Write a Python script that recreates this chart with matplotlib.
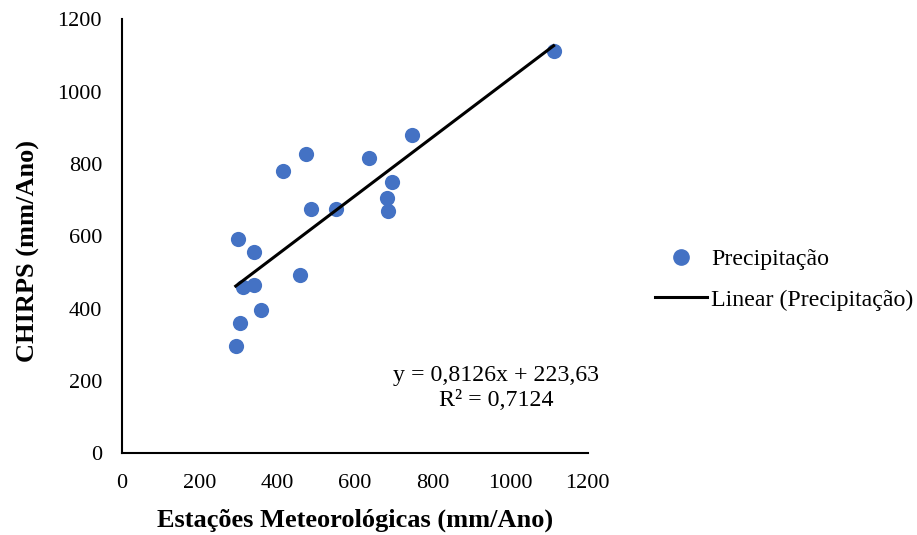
import matplotlib
matplotlib.use("Agg")
import matplotlib.pyplot as plt
import numpy as np
from matplotlib.lines import Line2D

estacoes = [1112, 748, 475, 416, 637, 696, 683, 685, 488, 552, 299, 342, 459, 312, 342, 360, 305, 294]
chirps = [1114, 881, 827, 782, 817, 749, 705, 670, 675, 677, 594, 558, 492, 461, 465, 396, 360, 297]
slope = 0.8126
intercept = 223.63
r2 = 0.7124
x_ticks = [0, 200, 400, 600, 800, 1000, 1200]
y_ticks = [0, 200, 400, 600, 800, 1000, 1200]

plt.rcParams['font.family'] = ['Liberation Serif', 'DejaVu Serif']

fig = plt.figure(figsize=(9.17, 5.35), dpi=100)
ax = fig.add_axes([0.1325, 0.1527, 0.5085, 0.811])

blue = '#4472C4'
ax.scatter(estacoes, chirps, s=120, color=blue, zorder=3, linewidths=0)
xl = np.array([min(estacoes), max(estacoes)])
ax.plot(xl, slope * xl + intercept, color='black', lw=2.2, zorder=4)

ax.set_xlim(0, 1200)
ax.set_ylim(0, 1200)
ax.set_xticks(x_ticks)
ax.set_yticks(y_ticks)
ax.tick_params(length=0, labelsize=16)
ax.tick_params(axis='y', pad=14)
ax.tick_params(axis='x', pad=15)
for s in ['top', 'right']:
    ax.spines[s].set_visible(False)
for s in ['left', 'bottom']:
    ax.spines[s].set_linewidth(1.5)
    ax.spines[s].set_color('black')

fig.text(355 / 917, 1 - 520 / 535, 'Estações Meteorológicas (mm/Ano)', fontsize=19,
         fontweight='bold', ha='center', va='center')
fig.text(28 / 917, 1 - 251 / 535, 'CHIRPS (mm/Ano)', fontsize=19, fontweight='bold',
         ha='center', va='center', rotation=90)

eq = f"y = {slope:.4f}x + {intercept:.2f}".replace('.', ',')
rt = f"R² = {r2:.4f}".replace('.', ',')
ax.text(964, 181, eq + "\n" + rt, ha='center', va='center', fontsize=17.2, linespacing=1.25)

handles = [Line2D([], [], marker='o', color=blue, linestyle='None', markersize=11),
           Line2D([], [], color='black', lw=2.2)]
fig.legend(handles, ['Precipitação', 'Linear (Precipitação)'],
           loc='center left', bbox_to_anchor=(655 / 917, 1 - 279.5 / 535), frameon=False,
           borderaxespad=0, borderpad=0,
           fontsize=17.2, handlelength=2.17, handletextpad=0.17, labelspacing=0.8)

fig.savefig('out.png', dpi=100)
